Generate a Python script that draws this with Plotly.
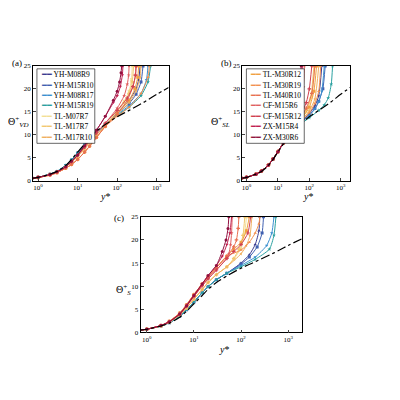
import plotly.graph_objects as go

names = ["YH-M08R9","YH-M15R10","YH-M08R17","YH-M15R19","TL-M07R7","TL-M17R7","TL-M17R10",
         "TL-M30R12","TL-M30R19","TL-M40R10","CF-M15R6","CF-M15R12","ZX-M15R4","ZX-M30R6"]
colors = ["#3b3b8f","#4060b0","#3a8fd0","#2aa0a0","#f3df95","#f2c870","#f0b060",
          "#f0a040","#f29050","#e87050","#e06060","#d04050","#c02050","#901040"]
symbols = ["triangle-up","square","triangle-down","star","x","cross","triangle-left",
           "square","triangle-up","cross","star","cross","triangle-down","circle"]

ref_x = [0.7,1,2,3,5,7,10,15,20,30,50,100,200,500,1000,2000]
ref_y = [0.5,0.7,1.4,2.0,3.3,4.6,6.2,8.0,9.3,10.8,12.2,13.9,15.3,17.2,18.8,20.3]

nw_x = [0.7,1,2,3,5,7,10,15,20,30]

# Panel (a): Theta_VD
a_nw = [
 [0.5,0.7,1.4,2.0,3.3,4.5,6.0,7.8,9.0,10.5]]*4 + \
 [[0.5,0.7,1.3,1.9,3.0,4.0,5.3,7.0,8.3,10.0]]*3 + \
 [[0.5,0.65,1.2,1.7,2.7,3.5,4.6,6.2,7.5,9.4]]*3 + \
 [[0.5,0.7,1.3,1.9,3.0,4.1,5.5,7.3,8.6,10.4]]*2 + \
 [[0.5,0.7,1.3,1.9,3.0,4.2,5.6,7.6,9.0,11.0]]*2
a_out_x = [[50,100,200,300,350,380],[50,100,200,300,400,450],[50,100,200,400,550,600],[50,100,200,400,600,700],
           [50,100,150,200,230,240],[50,100,150,200,240,260],[50,100,200,300,380,400],
           [50,100,200,280,330,350],[50,100,200,400,600,650],[50,100,180,250,290,300],
           [50,100,150,180,195,200],[50,100,180,250,290,300],[50,80,100,120,135,140],[50,80,100,115,125,130]]
a_out_y = [[12.2,14.8,17.5,20,22,25],[12.2,14.6,16.8,18.8,21.5,25],[12.2,14.4,16.3,19,22,25],[12.2,14.2,16,18.5,21.5,25],
           [12.0,15.2,17.3,19.5,22,25],[12.0,15,17,19,21.5,25],[12.0,14.5,17,19.5,22.5,25],
           [11.8,14.6,17.5,20,22.5,25],[11.8,14,16,19,22.5,25],[11.8,14.5,17.5,20.5,23,25],
           [12.5,15.8,18.5,21,23,25],[12.5,15.3,18,20.5,23,25],[14.0,17,18.5,20.5,23,25],[14.0,17.5,19.5,21.5,23.5,25]]

# Panel (b): Theta_SL
b_nw = [[0.5,0.7,1.4,2.1,3.4,4.7,6.3,8.2,9.5,11.0]]*14
b_out_x = [[50,100,150,200,250],[50,100,150,200,270,320],[50,100,150,200,250,300],[50,100,200,300,400,500,550],
           [50,80,120,150],[50,80,110,140],[50,100,150,200],
           [50,100,140,170],[50,100,150,200,230],[50,80,120,150],
           [40,55,65,70],[50,80,100,120],[35,45,55,60],[35,45,50,55]]
b_out_y = [[12.5,14.6,16.3,18.5,25],[12.4,14.3,15.7,17.3,20,25],[12.4,14.2,15.6,17.2,19.5,25],[12.2,13.7,15.3,16.5,18,21,25],
           [13,15,18.5,25],[13,15.3,18,25],[12.8,15.2,17.8,25],
           [13,16,19.5,25],[12.6,14.8,16.8,19.5,25],[13.2,15.8,19,25],
           [13.5,17,20.5,25],[13.8,17,20,25],[13.5,16.5,21,25],[14,18,21,25]]

# Panel (c): Theta_S
c_nw = [[0.5,0.7,1.4,2.1,3.5,4.9,6.6,8.6,9.9,11.4]]*4 + \
 [[0.5,0.7,1.4,2.2,3.8,5.3,7.2,9.3,10.8,12.5]]*3 + \
 [[0.5,0.7,1.5,2.4,4.2,6.0,8.2,10.5,12.0,14.0]]*3 + \
 [[0.5,0.7,1.5,2.3,4.0,5.7,7.8,10.1,11.6,13.5]]*2 + \
 [[0.5,0.7,1.5,2.3,4.0,5.8,8.0,10.5,12.3,14.5]]*2
c_out_x = [[50,100,150,200,240,250],[50,100,150,220,280,300],[50,100,200,350,450,500],[50,100,200,400,500,550],
           [50,70,100,120,130],[50,70,90,110,120],[50,100,130,155,170],
           [50,70,100,130,150],[50,100,150,200,240,250],[50,70,80,87,90],
           [50,55,60,63,65],[50,70,100,140,160],[40,50,58,63],[40,48,53,55]]
c_out_y = [[12.8,15,16.8,19,22,25],[12.8,14.8,16.3,18.5,21.5,25],[12.8,14.5,16.3,18.8,21.5,25],[12.8,14.2,15.8,18,21,25],
           [14.2,15.8,18.3,21.5,25],[14.2,16,18,21,25],[14.2,17,18.8,21,25],
           [16.5,18,19.5,22,25],[16.5,17.8,19.5,21.5,23.5,25],[16.5,18.5,20,22.5,25],
           [16,17,19,21.5,25],[16,17.5,19,21.5,25],[16.5,19,21.5,25],[17.5,20,22.5,25]]

fig = go.Figure()
panels = [("x","y",a_nw,a_out_x,a_out_y),("x2","y2",b_nw,b_out_x,b_out_y),("x3","y3",c_nw,c_out_x,c_out_y)]
for p,(xa,ya,nw,ox,oy) in enumerate(panels):
    for i,n in enumerate(names):
        fig.add_trace(go.Scatter(x=nw_x+ox[i], y=nw[i]+oy[i], xaxis=xa, yaxis=ya, name=n,
            mode="lines+markers", line=dict(color=colors[i], width=1, shape="spline", smoothing=0.6),
            marker=dict(symbol=symbols[i], size=3, color=colors[i]), showlegend=False))
    fig.add_trace(go.Scatter(x=ref_x, y=ref_y, xaxis=xa, yaxis=ya, mode="lines",
        line=dict(color="black", width=1.2, dash="dashdot", shape="spline"), showlegend=False))

tv = [1,10,100,1000]
tt = ["10<sup>0</sup>","10<sup>1</sup>","10<sup>2</sup>","10<sup>3</sup>"]
ax = dict(type="log", range=[-0.13,3.3], tickvals=tv, ticktext=tt, ticks="inside", ticklen=3,
          showline=True, mirror=True, linecolor="black", linewidth=0.8, showgrid=False, zeroline=False,
          tickfont=dict(size=7))
ay = dict(range=[0,25], dtick=5, ticks="inside", ticklen=3, showline=True, mirror=True,
          linecolor="black", linewidth=0.8, showgrid=False, zeroline=False, tickfont=dict(size=7))
fig.update_layout(
    width=400, height=400, margin=dict(l=0,r=0,t=0,b=0), plot_bgcolor="white", paper_bgcolor="white",
    font=dict(family="Liberation Serif", color="black"), showlegend=False,
    xaxis=dict(ax, domain=[0.06,0.40], anchor="y"), yaxis=dict(ay, domain=[0.57,0.8625], anchor="x"),
    xaxis2=dict(ax, domain=[0.585,0.855], anchor="y2"), yaxis2=dict(ay, domain=[0.57,0.8625], anchor="x2"),
    xaxis3=dict(ax, domain=[0.33,0.735], anchor="y3"), yaxis3=dict(ay, domain=[0.1825,0.4775], anchor="x3"),
)

# manual legends (layout positions)
for lx, idx in [(0.07, range(0,7)), (0.595, range(7,14))]:
    fig.add_shape(type="rect", xref="paper", yref="paper", x0=lx, x1=lx+0.145, y0=0.665, y1=0.855,
                  line=dict(color="black", width=0.6), fillcolor="white", layer="above")
    for k, i in enumerate(idx):
        fig.add_annotation(x=lx+0.005, y=0.84-k*0.0265, xref="paper", yref="paper", showarrow=False,
                           xanchor="left", yanchor="middle", font=dict(size=7.5),
                           text=f'<span style="color:{colors[i]}">━━</span> {names[i]}')

ann = [
 dict(x=0.02, y=0.87, text="(a)"), dict(x=0.545, y=0.87, text="(b)"), dict(x=0.275, y=0.475, text="(c)"),
 dict(x=0.025, y=0.72, text="Θ<sup>+</sup><sub><i>VD</i></sub>", size=10),
 dict(x=0.53, y=0.72, text="Θ<sup>+</sup><sub><i>SL</i></sub>", size=10),
 dict(x=0.287, y=0.29, text="Θ<sup>+</sup><sub><i>S</i></sub>", size=10),
 dict(x=0.24, y=0.53, text="<i>y</i>*", size=10), dict(x=0.75, y=0.53, text="<i>y</i>*", size=10),
 dict(x=0.54, y=0.14, text="<i>y</i>*", size=10),
]
for a in ann:
    fig.add_annotation(x=a["x"], y=a["y"], xref="paper", yref="paper", text=a["text"], showarrow=False,
                       font=dict(size=a.get("size", 9)), xanchor="center", yanchor="middle")
fig.write_html("out.html")
